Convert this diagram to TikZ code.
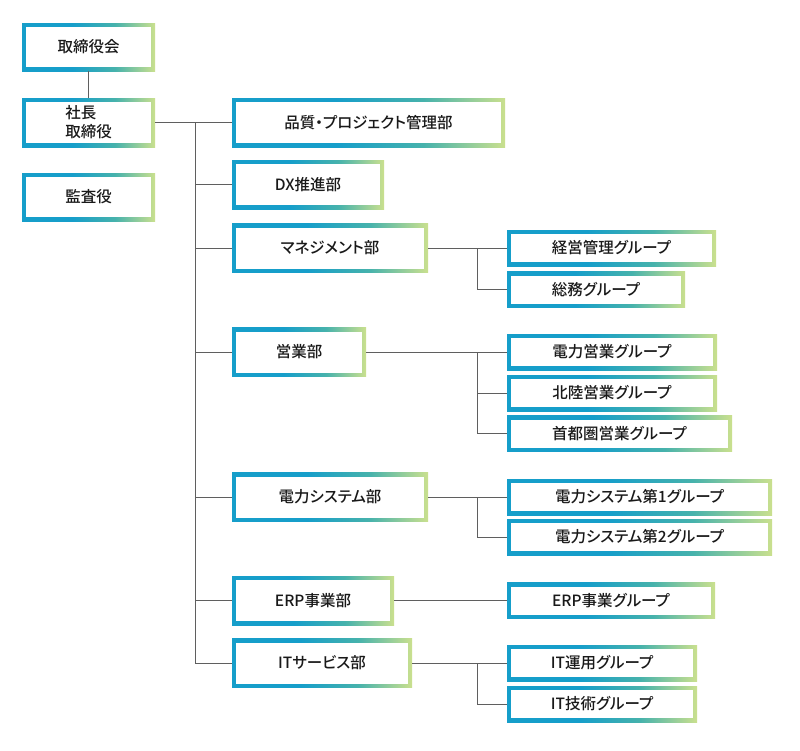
\documentclass[tikz,border=0pt]{standalone}
\usepackage{fontspec}
\setmainfont{Noto Sans CJK JP}[UprightFont=* Medium, RawFeature=+palt]
\definecolor{cb}{RGB}{22,158,202}
\definecolor{ct}{RGB}{70,178,172}
\definecolor{cg}{RGB}{202,224,142}
\definecolor{ln}{RGB}{95,95,95}
\definecolor{tx}{RGB}{25,25,25}
\pgfdeclarehorizontalshading{boxgrad}{100bp}{color(0bp)=(cb); color(25bp)=(cb); color(44bp)=(cb); color(60bp)=(ct); color(75bp)=(cg); color(100bp)=(cg)}
\tikzset{
  orgbox/.style={inner sep=0pt, text=tx, align=left,
    font=\fontsize{15.5}{19}\selectfont,
    path picture={
      \shade[shading=boxgrad] (path picture bounding box.south west) rectangle (path picture bounding box.north east);
      \fill[white] ([shift={(4pt,4pt)}]path picture bounding box.south west) rectangle ([shift={(-4pt,-4pt)}]path picture bounding box.north east);
    }},
  dept/.style={orgbox, minimum height=49pt},
  grp/.style={orgbox, minimum height=36pt},
  conn/.style={draw=ln, line width=0.9pt}
}
\begin{document}
\begin{tikzpicture}[x=1pt,y=-1pt]
\useasboundingbox[fill=white] (0,0) rectangle (800,750);
% left column
\node[dept, minimum width=133pt, minimum height=48pt] (kaigi) at (88.5,47) {取締役会};
\node[dept, minimum width=133pt] (shacho) at (88.5,122.5) {社長\\取締役};
\node[dept, minimum width=133pt, minimum height=48pt] (kansa) at (88.5,197) {監査役};
% departments
\node[dept, minimum width=273pt] (hinshitsu) at (368.5,122.5) {品質・プロジェクト管理部};
\node[dept, minimum width=152pt] (dx) at (308,184.5) {DX推進部};
\node[dept, minimum width=196pt] (mgmt) at (330,248) {マネジメント部};
\node[dept, minimum width=134pt] (eigyo) at (299,352) {営業部};
\node[dept, minimum width=196pt] (densys) at (330,497) {電力システム部};
\node[dept, minimum width=162pt] (erp) at (313,600.5) {ERP事業部};
\node[dept, minimum width=180pt] (its) at (322,663) {ITサービス部};
% groups
\node[grp, minimum width=209pt] (keiei) at (611.5,248) {経営管理グループ};
\node[grp, minimum width=178pt] (soumu) at (596,289.5) {総務グループ};
\node[grp, minimum width=210pt] (denei) at (612,352) {電力営業グループ};
\node[grp, minimum width=210pt] (hokuriku) at (612,393) {北陸営業グループ};
\node[grp, minimum width=225pt] (shuto) at (619.5,433.5) {首都圏営業グループ};
\node[grp, minimum width=265pt] (ds1) at (639.5,497) {電力システム第1グループ};
\node[grp, minimum width=265pt] (ds2) at (639.5,537) {電力システム第2グループ};
\node[grp, minimum width=208pt] (erpg) at (611,600.5) {ERP事業グループ};
\node[grp, minimum width=190pt] (itun) at (602,663) {IT運用グループ};
\node[grp, minimum width=190pt] (itgi) at (602,704) {IT技術グループ};
% connectors
\coordinate (tt) at (195,122.5);
\coordinate (tb) at (195,663);
\coordinate (bx) at (477,0);
\draw[conn] (kaigi) -- (shacho);
\draw[conn] (shacho.east) -- (hinshitsu.west);
\draw[conn] (tt) -- (tb);
\foreach \n in {dx,mgmt,eigyo,densys,erp,its}
  \draw[conn] (tt |- \n.west) -- (\n.west);
\draw[conn] (mgmt.east) -- (keiei.west);
\draw[conn] (bx |- mgmt.east) |- (soumu.west);
\draw[conn] (eigyo.east) -- (denei.west);
\draw[conn] (bx |- eigyo.east) |- (hokuriku.west);
\draw[conn] (bx |- eigyo.east) |- (shuto.west);
\draw[conn] (densys.east) -- (ds1.west);
\draw[conn] (bx |- densys.east) |- (ds2.west);
\draw[conn] (erp.east) -- (erpg.west);
\draw[conn] (its.east) -- (itun.west);
\draw[conn] (bx |- its.east) |- (itgi.west);
\end{tikzpicture}
\end{document}
